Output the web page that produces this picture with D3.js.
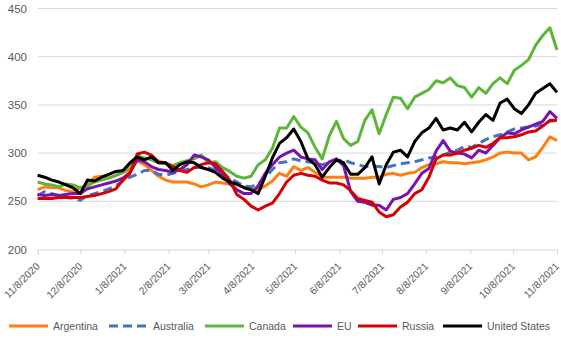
<!DOCTYPE html>
<html><head><meta charset="utf-8">
<script src="https://cdn.jsdelivr.net/npm/d3@7"></script>
<style>
html,body{margin:0;padding:0;background:#fff;}
svg{display:block;font-family:"Liberation Sans",Arial,sans-serif;}
</style></head>
<body>
<svg id="chart" width="561" height="340"></svg>
<script>
// ---- data ----
const dates = ["2020-11-08","2020-11-13","2020-11-18","2020-11-23","2020-11-28",
"2020-12-03","2020-12-08","2020-12-13","2020-12-18","2020-12-23","2020-12-28",
"2021-01-02","2021-01-07","2021-01-12","2021-01-17","2021-01-22","2021-01-27",
"2021-02-01","2021-02-06","2021-02-11","2021-02-16","2021-02-21","2021-02-26",
"2021-03-03","2021-03-08","2021-03-13","2021-03-18","2021-03-23","2021-03-28",
"2021-04-02","2021-04-07","2021-04-12","2021-04-17","2021-04-22","2021-04-27",
"2021-05-02","2021-05-07","2021-05-12","2021-05-17","2021-05-22","2021-05-27",
"2021-06-01","2021-06-06","2021-06-11","2021-06-16","2021-06-21","2021-06-26",
"2021-07-01","2021-07-06","2021-07-11","2021-07-16","2021-07-21","2021-07-26","2021-07-31",
"2021-08-05","2021-08-10","2021-08-15","2021-08-20","2021-08-25","2021-08-30",
"2021-09-04","2021-09-09","2021-09-14","2021-09-19","2021-09-24","2021-09-29",
"2021-10-04","2021-10-09","2021-10-14","2021-10-19","2021-10-24","2021-10-29",
"2021-11-03","2021-11-08"];

const argentina = [262,265,264,264,261,260,264,267,275,276,274,277,280,283,292,288,282,276,272,270,270,270,268,265,267,270,269,268,267,265,263,262,266,271,279,276,286,282,285,280,275,275,275,275,274,274,274,275,275,278,279,277,279,280,285,288,289,291,290,290,289,290,291,293,296,300,301,300,300,293,296,306,317,313];
const australia = [256,260,258,256,254,253,251,256,258,260,263,266,271,275,278,282,282,278,277,279,282,283,285,285,285,282,278,274,270,266,265,268,275,283,290,291,294,292,291,290,288,290,292,293,290,288,286,286,286,285,287,289,290,291,293,295,296,298,301,303,307,306,310,314,317,319,322,325,326,327,328,330,333,334];
const canada = [270,268,267,265,268,267,264,266,270,272,274,277,280,288,297,295,293,290,289,287,290,292,294,298,290,291,285,281,276,274,276,288,293,305,326,326,338,327,321,306,294,318,333,315,308,312,334,345,320,340,358,357,346,358,362,366,375,373,378,370,368,358,368,362,372,378,372,386,391,397,412,422,430,407];
const eu = [257,256,257,256,257,258,258,263,265,267,269,271,274,280,293,291,286,283,282,280,283,288,298,296,293,285,278,268,262,258,258,266,279,288,296,300,303,296,294,293,283,291,294,287,260,250,249,246,246,241,252,254,258,268,279,284,302,313,302,300,299,295,303,300,308,316,321,320,324,327,330,333,343,336];
const russia = [253,253,253,254,254,254,254,255,256,258,260,263,272,279,299,301,298,291,290,286,282,280,285,288,290,289,281,272,257,252,245,241,245,248,258,270,277,279,277,276,272,269,269,267,261,253,251,249,239,234,236,244,249,258,262,275,294,298,298,300,303,305,308,306,310,316,316,317,319,322,323,328,334,334];
const unitedStates = [277,275,272,270,267,264,258,272,271,275,278,281,282,290,296,293,296,290,290,282,288,291,290,285,283,280,274,270,268,264,262,258,276,295,310,316,325,312,294,288,275,285,293,290,278,278,285,296,268,288,301,303,296,312,321,326,336,324,326,324,332,322,332,340,334,352,356,346,341,350,362,367,372,363];

const seriesNames = ["Argentina","Australia","Canada","EU","Russia","United States"];
const seriesValues = [argentina, australia, canada, eu, russia, unitedStates];
const seriesColors = ["#FF7F0E","#4472C4","#5DB53C","#7A12AE","#D90000","#000000"];
const seriesDash = [null,"9,5",null,null,null,null];

const yTicks = [200,250,300,350,400,450];
const xTickLabels = ["11/8/2020","12/8/2020","1/8/2021","2/8/2021","3/8/2021","4/8/2021","5/8/2021","6/8/2021","7/8/2021","8/8/2021","9/8/2021","10/8/2021","11/8/2021"];

// ---- chart ----
const svg = d3.select("#chart");
const parseD = d3.timeParse("%Y-%m-%d");
const parseTick = d3.timeParse("%m/%d/%Y");
const dateObjs = dates.map(parseD);
const tickDates = xTickLabels.map(parseTick);

const x = d3.scaleTime().domain([tickDates[0], tickDates[tickDates.length-1]]).range([37.6, 557]);
const y = d3.scaleLinear().domain([200,450]).range([249.5, 8.5]);

// gridlines
svg.append("g").selectAll("line").data(yTicks.slice(1)).join("line")
  .attr("x1", x.range()[0]).attr("x2", x.range()[1])
  .attr("y1", d=>y(d)).attr("y2", d=>y(d))
  .attr("stroke","#d9d9d9").attr("stroke-width",1);

// y labels
svg.append("g").selectAll("text").data(yTicks).join("text")
  .attr("x", 27).attr("y", d=>y(d)).attr("dy","0.35em")
  .attr("text-anchor","end").attr("font-size","11.5px").attr("fill","#595959")
  .text(d=>d);

// x axis
const xAxis = d3.axisBottom(x).tickValues(tickDates).tickSize(5).tickFormat((d,i)=>xTickLabels[i]);
const gx = svg.append("g").attr("transform",`translate(0,${y(200)})`).call(xAxis);
gx.select(".domain").attr("stroke","#d9d9d9");
gx.selectAll(".tick line").attr("stroke","#d9d9d9");
gx.selectAll(".tick text")
  .attr("font-family","Liberation Sans, Arial, sans-serif")
  .attr("font-size","10.3px").attr("fill","#595959")
  .attr("text-anchor","end")
  .attr("transform","translate(-2,13) rotate(-45)")
  .attr("x",0).attr("y",0).attr("dy","0.6em");

// lines
const line = d3.line().x((d,i)=>x(dateObjs[i])).y(d=>y(d));
const gl = svg.append("g");
seriesValues.forEach((vals,i)=>{
  gl.append("path").datum(vals)
    .attr("d", line)
    .attr("fill","none")
    .attr("stroke", seriesColors[i])
    .attr("stroke-width", 3)
    .attr("stroke-linejoin","round")
    .attr("stroke-dasharray", seriesDash[i]);
});

// legend (layout positions of each entry)
const legendX = [9,109,205,293,358,443];
const lg = svg.append("g").attr("transform","translate(0,326)");
seriesNames.forEach((name,i)=>{
  const cx = legendX[i];
  lg.append("line").attr("x1",cx).attr("x2",cx+39).attr("y1",0).attr("y2",0)
    .attr("stroke",seriesColors[i]).attr("stroke-width",3)
    .attr("stroke-dasharray", seriesDash[i]);
  lg.append("text").attr("x",cx+44).attr("y",0).attr("dy","0.35em")
    .attr("font-size","10.5px").attr("fill","#595959").text(name);
});
</script>
</body></html>
